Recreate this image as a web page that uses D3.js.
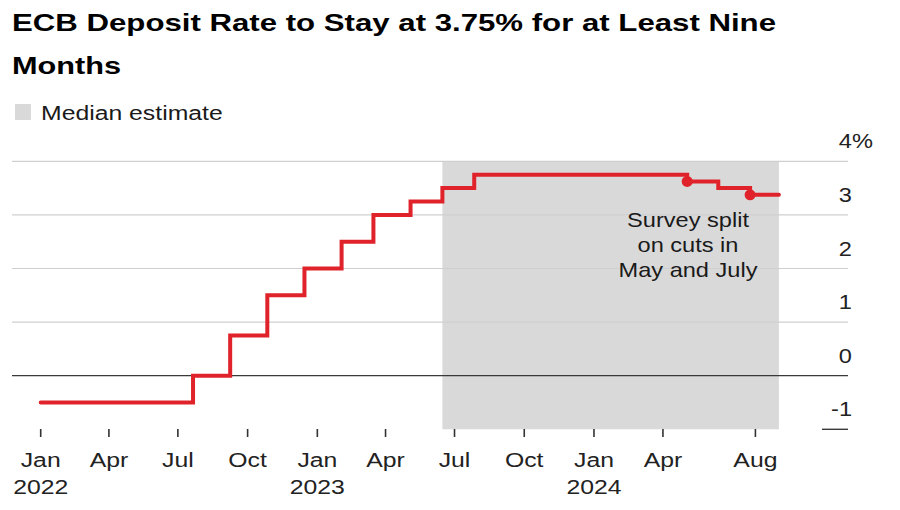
<!DOCTYPE html>
<html>
<head>
<meta charset="utf-8">
<script src="https://cdn.jsdelivr.net/npm/d3@7"></script>
<style>
  html, body { margin: 0; padding: 0; background: #fff; }
  svg { display: block; font-family: "Liberation Sans", Arial, Helvetica, sans-serif; }
</style>
</head>
<body>
<svg id="chart" width="900" height="510"></svg>
<script>
// ---- Data ----
const titleLines = ["ECB Deposit Rate to Stay at 3.75% for at Least Nine", "Months"];
const legendLabel = "Median estimate";
// step change dates (rate effective from that date) and deposit rate (%)
const rateDates = ["2022-01-01","2022-07-21","2022-09-08","2022-10-27","2022-12-15","2023-02-02","2023-03-16","2023-05-04","2023-06-15","2023-07-27","2024-05-03","2024-06-13","2024-07-25","2024-09-01"];
const rateValues = [-0.5, 0, 0.75, 1.5, 2.0, 2.5, 3.0, 3.25, 3.5, 3.75, 3.625, 3.5, 3.375, 3.375];
// survey split points
const dotDates = ["2024-05-03","2024-07-25"];
const dotValues = [3.625, 3.375];
// median estimate shaded period
const shadeStart = "2023-06-15";
const shadeEnd = "2024-09-01";
// axes
const xTickDates = ["2022-01-01","2022-04-01","2022-07-01","2022-10-01","2023-01-01","2023-04-01","2023-07-01","2023-10-01","2024-01-01","2024-04-01","2024-08-01"];
const xTickMonths = ["Jan","Apr","Jul","Oct","Jan","Apr","Jul","Oct","Jan","Apr","Aug"];
const xTickYears = ["2022","","","","2023","","","","2024","",""];
const yTicks = [-1, 0, 1, 2, 3, 4];
const yTickLabels = ["-1","0","1","2","3","4"];
const annotationLines = ["Survey split", "on cuts in", "May and July"];

// ---- Setup ----
const parse = d3.utcParse("%Y-%m-%d");
const svg = d3.select("#chart");
const SX = 1.18; // horizontal widening of the type

const x = d3.scaleUtc()
  .domain([parse("2022-01-01"), parse("2024-09-01")])
  .range([40.7, 778.9]);
const y = d3.scaleLinear().domain([-1, 4]).range([429.3, 161.3]);

const gridLeft = 12, gridRight = 848;

function addText(parent, tx, ty, str, opts) {
  const t = parent.append("text")
    .attr("transform", `translate(${tx},${ty}) scale(${opts.sx ?? SX},1)`)
    .attr("x", 0).attr("y", 0)
    .attr("font-size", opts.size)
    .attr("font-weight", opts.weight || "normal")
    .attr("fill", opts.fill || "#1a1a1a")
    .attr("text-anchor", opts.anchor || "start")
    .text(str);
  return t;
}

// ---- Title ----
const titleWidths = [764, 109];
titleLines.forEach((s, i) => {
  svg.append("text")
    .attr("x", 12).attr("y", 31 + i * 42.5)
    .attr("font-size", 24.5).attr("font-weight", "bold").attr("fill", "#000")
    .attr("textLength", titleWidths[i]).attr("lengthAdjust", "spacingAndGlyphs")
    .text(s);
});

// ---- Legend ----
svg.append("rect").attr("x", 15).attr("y", 104).attr("width", 16).attr("height", 16).attr("fill", "#d9d9d9");
addText(svg, 41, 120, legendLabel, {size: 21});

// ---- Shade ----
svg.append("rect")
  .attr("x", x(parse(shadeStart)))
  .attr("y", y(4))
  .attr("width", x(parse(shadeEnd)) - x(parse(shadeStart)))
  .attr("height", y(-1) - y(4))
  .attr("fill", "#d9d9d9");

// ---- Gridlines ----
const grid = svg.append("g");
yTicks.filter(v => v > 0).forEach(v => {
  grid.append("line")
    .attr("x1", gridLeft).attr("x2", gridRight)
    .attr("y1", y(v)).attr("y2", y(v))
    .attr("stroke", "#cfcfcf").attr("stroke-width", 1.2);
});
grid.append("line")
  .attr("x1", gridLeft).attr("x2", gridRight)
  .attr("y1", y(0)).attr("y2", y(0))
  .attr("stroke", "#3a3a3a").attr("stroke-width", 1.2);
grid.append("line")
  .attr("x1", 822).attr("x2", gridRight)
  .attr("y1", y(-1)).attr("y2", y(-1))
  .attr("stroke", "#3a3a3a").attr("stroke-width", 1.4);

// ---- Y labels ----
yTicks.forEach((v, i) => {
  addText(svg, 852, y(v) - 13, yTickLabels[i], {size: 20, anchor: "end", fill: "#222"});
  if (v === 4) addText(svg, 852, y(v) - 13, "%", {size: 20, anchor: "start", fill: "#222"});
});

// ---- X axis ----
const xAxis = svg.append("g");
xTickDates.forEach((d, i) => {
  const px = x(parse(d));
  xAxis.append("line").attr("x1", px).attr("x2", px).attr("y1", 429).attr("y2", 437)
    .attr("stroke", "#333").attr("stroke-width", 1.6);
  addText(xAxis, px, 467, xTickMonths[i], {size: 21, anchor: "middle", fill: "#222"});
  if (xTickYears[i]) addText(xAxis, px, 494, xTickYears[i], {size: 21, anchor: "middle", fill: "#222"});
});

// ---- Line ----
const series = rateDates.map((d, i) => ({date: parse(d), value: rateValues[i]}));
const line = d3.line().x(d => x(d.date)).y(d => y(d.value)).curve(d3.curveStepAfter);
svg.append("path")
  .datum(series)
  .attr("d", line)
  .attr("fill", "none")
  .attr("stroke", "#e0232b")
  .attr("stroke-width", 4)
  .attr("stroke-linejoin", "miter")
  .attr("stroke-linecap", "round");

svg.selectAll("circle.dot")
  .data(dotDates.map((d, i) => ({date: parse(d), value: dotValues[i]})))
  .join("circle")
  .attr("class", "dot")
  .attr("cx", d => x(d.date)).attr("cy", d => y(d.value))
  .attr("r", 5.5).attr("fill", "#e0232b");

// ---- Annotation ----
annotationLines.forEach((s, i) => {
  addText(svg, 688, 226.7 + i * 25, s, {size: 20, anchor: "middle", fill: "#1a1a1a"});
});
</script>
</body>
</html>
